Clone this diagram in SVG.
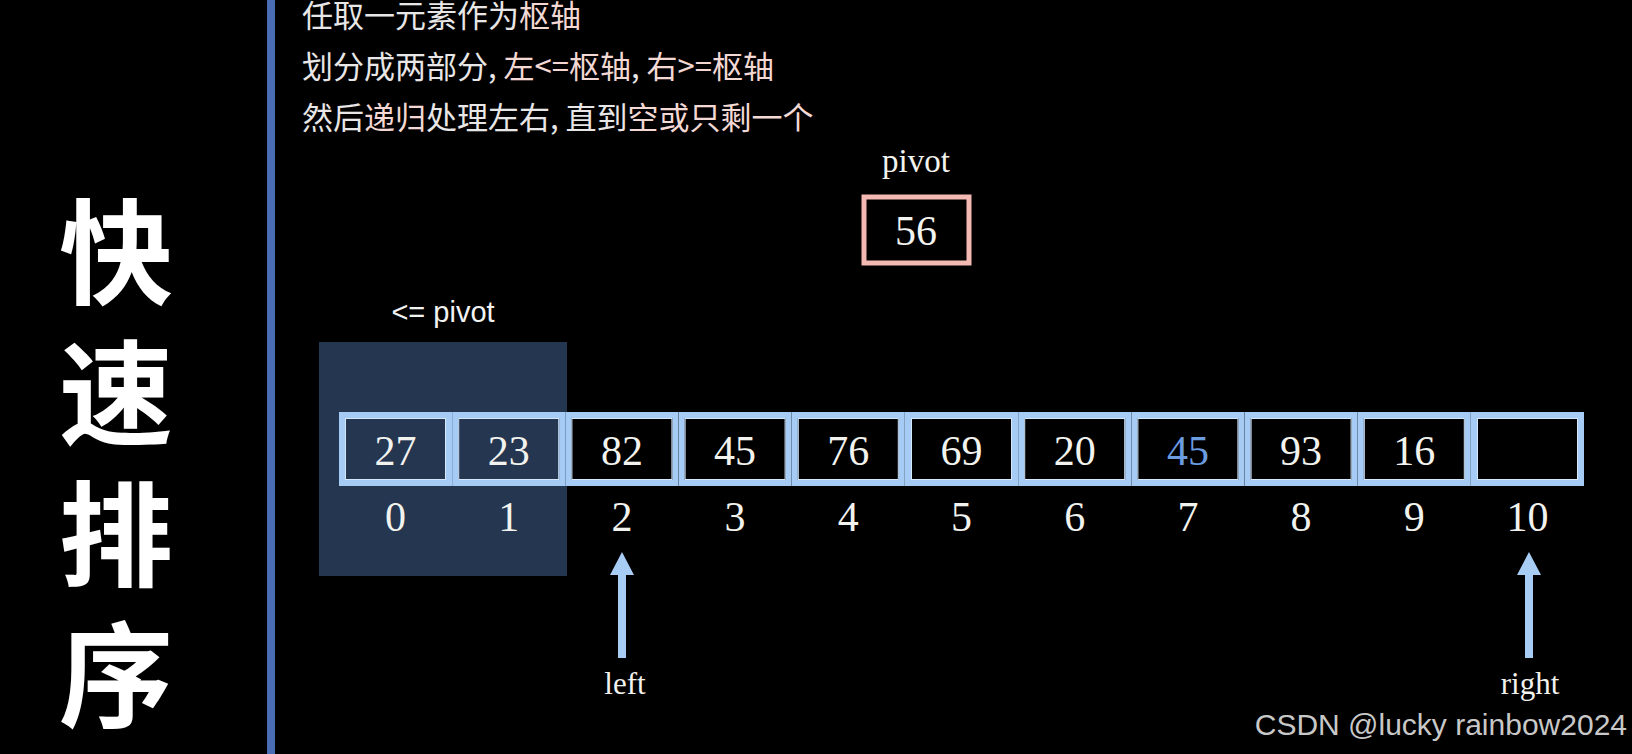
<svg xmlns="http://www.w3.org/2000/svg" width="1632" height="754" viewBox="0 0 1632 754">
<style>
.hdr{font-family:"Noto Sans CJK SC","Noto Sans",sans-serif;font-size:31px;font-weight:400;fill:#e8e6e6}
.pk{fill:#f3d8d4}
.title{font-family:"Noto Sans CJK SC",sans-serif;font-size:114px;font-weight:700;fill:#ffffff}
.serif{font-family:"Liberation Serif","Times New Roman",serif;fill:#f2f2ee;text-anchor:middle}
.num{font-size:42px}
.cell{fill:none;stroke:#a6ccf5;stroke-width:6}
.cellin{fill:none;stroke:#d4e7fb;stroke-width:1}
.arrow{fill:#a8cdf5}
</style>
<rect x="0" y="0" width="1632" height="754" fill="#000000"/>
<rect x="267" y="0" width="8" height="754" fill="#4a6cb3"/>

<g id="header">
<text class="hdr" x="302" y="27">任取一元素作为<tspan class="pk">枢轴</tspan></text>
<text class="hdr" x="302" y="78">划分成两部分, <tspan class="pk">左&lt;=枢轴</tspan>, <tspan class="pk">右&gt;=枢轴</tspan></text>
<text class="hdr" x="302" y="129">然后<tspan class="pk">递归</tspan>处理左右, 直到<tspan class="pk">空或只剩一个</tspan></text>
</g>

<g id="title">
<text class="title" x="116" y="195" writing-mode="vertical-rl" letter-spacing="27">快速排序</text>
</g>

<g id="pivot">
<text class="serif" x="916" y="172" font-size="33">pivot</text>
<rect x="864" y="197" width="105" height="66" fill="#000" stroke="#f4b9b2" stroke-width="5"/>
<text class="serif num" x="916" y="245">56</text>
</g>

<g id="left-region">
<rect x="319" y="342" width="248" height="234" fill="#243650"/>
<text x="443" y="322" font-family="Liberation Sans,Arial,sans-serif" font-size="29" fill="#f2f2f2" text-anchor="middle">&lt;= pivot</text>
</g>

<g id="array">
<g id="c0"><rect class="cell" x="342" y="415" width="107" height="68"/><rect class="cellin" x="345.5" y="418.5" width="100" height="61"/><text class="serif num" x="395.5" y="465">27</text><text class="serif num" x="395.5" y="531">0</text></g>
<g id="c1"><rect class="cell" x="455.2" y="415" width="107" height="68"/><rect class="cellin" x="458.7" y="418.5" width="100" height="61"/><text class="serif num" x="508.7" y="465">23</text><text class="serif num" x="508.7" y="531">1</text></g>
<g id="c2"><rect class="cell" x="568.4" y="415" width="107" height="68"/><rect class="cellin" x="571.9" y="418.5" width="100" height="61"/><text class="serif num" x="621.9" y="465">82</text><text class="serif num" x="621.9" y="531">2</text></g>
<g id="c3"><rect class="cell" x="681.6" y="415" width="107" height="68"/><rect class="cellin" x="685.1" y="418.5" width="100" height="61"/><text class="serif num" x="735.1" y="465">45</text><text class="serif num" x="735.1" y="531">3</text></g>
<g id="c4"><rect class="cell" x="794.8" y="415" width="107" height="68"/><rect class="cellin" x="798.3" y="418.5" width="100" height="61"/><text class="serif num" x="848.3" y="465">76</text><text class="serif num" x="848.3" y="531">4</text></g>
<g id="c5"><rect class="cell" x="908" y="415" width="107" height="68"/><rect class="cellin" x="911.5" y="418.5" width="100" height="61"/><text class="serif num" x="961.5" y="465">69</text><text class="serif num" x="961.5" y="531">5</text></g>
<g id="c6"><rect class="cell" x="1021.2" y="415" width="107" height="68"/><rect class="cellin" x="1024.7" y="418.5" width="100" height="61"/><text class="serif num" x="1074.7" y="465">20</text><text class="serif num" x="1074.7" y="531">6</text></g>
<g id="c7"><rect class="cell" x="1134.4" y="415" width="107" height="68"/><rect class="cellin" x="1137.9" y="418.5" width="100" height="61"/><text class="serif num" x="1187.9" y="465" style="fill:#6b9ce0">45</text><text class="serif num" x="1187.9" y="531">7</text></g>
<g id="c8"><rect class="cell" x="1247.6" y="415" width="107" height="68"/><rect class="cellin" x="1251.1" y="418.5" width="100" height="61"/><text class="serif num" x="1301.1" y="465">93</text><text class="serif num" x="1301.1" y="531">8</text></g>
<g id="c9"><rect class="cell" x="1360.8" y="415" width="107" height="68"/><rect class="cellin" x="1364.3" y="418.5" width="100" height="61"/><text class="serif num" x="1414.3" y="465">16</text><text class="serif num" x="1414.3" y="531">9</text></g>
<g id="c10"><rect class="cell" x="1474" y="415" width="107" height="68"/><rect class="cellin" x="1477.5" y="418.5" width="100" height="61"/><text class="serif num" x="1527.5" y="531">10</text></g>
</g>

<g id="connectors">
<path class="arrow" d="M622 552 L634 575 L626 575 L626 658 L618 658 L618 575 L610 575 Z"/>
<path class="arrow" d="M1529 552 L1541 575 L1533 575 L1533 658 L1525 658 L1525 575 L1517 575 Z"/>
</g>

<g id="labels">
<text class="serif" x="625" y="694" font-size="31">left</text>
<text class="serif" x="1530" y="694" font-size="31">right</text>
</g>

<text x="1627" y="735" font-family="Liberation Sans,Arial,sans-serif" font-size="30" fill="#c8c8c8" text-anchor="end">CSDN @lucky rainbow2024</text>
</svg>
